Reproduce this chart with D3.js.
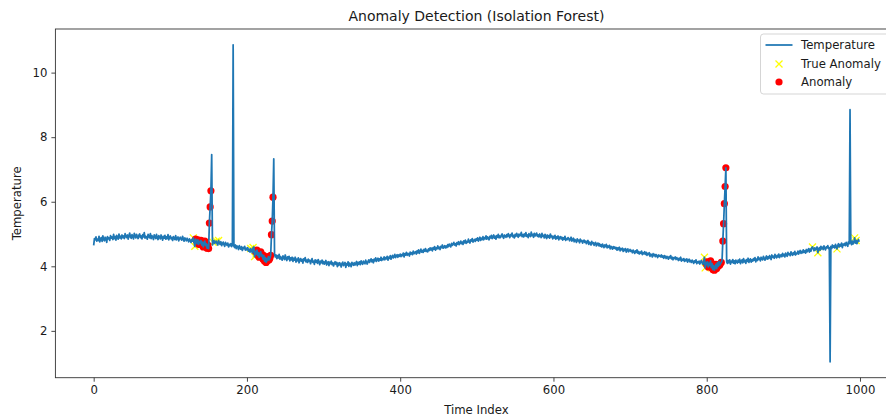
<!DOCTYPE html>
<html>
<head>
<meta charset="utf-8">
<script src="https://cdn.jsdelivr.net/npm/d3@7"></script>
<style>
  body { margin: 0; background: #fff; }
  svg text { font-family: "DejaVu Sans", sans-serif; fill: #1a1a1a; }
</style>
</head>
<body>
<svg id="chart" width="886" height="419"></svg>
<script>
// Temperature readings, one per time index (0..999)
const temperature = [
  4.65,4.86,4.82,4.91,4.78,4.84,4.80,4.93,4.76,4.85,4.89,4.77,4.94,4.83,4.79,4.90,4.86,4.74,4.92,4.85,
  4.88,4.80,4.95,4.87,4.91,4.83,4.99,4.86,4.92,4.81,4.96,4.90,4.84,5.00,4.88,4.93,4.85,4.97,4.89,4.94,
  4.86,5.01,4.93,4.89,4.97,4.84,4.95,5.03,4.90,4.87,4.98,4.92,4.85,5.02,4.94,4.88,4.99,4.91,4.86,4.96,
  5.00,4.89,4.94,4.85,4.98,4.91,5.04,4.87,4.93,4.90,4.84,4.99,4.92,4.88,5.01,4.86,4.95,4.91,4.83,4.97,
  4.92,4.86,4.99,4.88,4.83,4.95,4.90,4.85,4.97,4.89,4.81,4.93,4.87,4.96,4.84,4.91,4.86,4.98,4.82,4.90,
  4.94,4.85,4.89,4.80,4.92,4.87,4.83,4.95,4.82,4.88,4.91,4.79,4.86,4.90,4.84,4.81,4.93,4.85,4.78,4.88,
  4.84,4.79,4.87,4.81,4.76,4.85,4.80,4.74,4.83,4.78,4.88,4.75,4.62,4.84,4.79,4.70,4.82,4.68,4.77,4.73,
  4.80,4.66,4.75,4.60,4.72,4.78,4.64,4.70,4.56,4.66,4.55,5.34,5.84,6.34,7.46,4.66,4.74,4.80,4.71,4.77,
  4.78,4.70,4.66,4.80,4.73,4.68,4.76,4.64,4.71,4.75,4.67,4.62,4.74,4.69,4.65,4.72,4.60,4.68,4.64,4.70,
  4.61,4.66,10.86,4.62,4.58,4.66,4.55,4.63,4.60,4.52,4.64,4.57,4.53,4.61,4.49,4.58,4.55,4.62,4.50,4.56,
  4.51,4.58,4.47,4.53,4.44,4.55,4.49,4.42,4.58,4.60,4.30,4.46,4.38,4.50,4.34,4.42,4.28,4.39,4.45,4.31,
  4.36,4.22,4.33,4.16,4.27,4.12,4.24,4.18,4.30,4.20,4.26,4.34,4.98,5.40,6.14,7.33,4.38,4.29,4.35,4.24,
  4.33,4.26,4.37,4.22,4.30,4.25,4.19,4.32,4.27,4.21,4.35,4.24,4.18,4.29,4.23,4.31,4.17,4.26,4.20,4.28,
  4.15,4.25,4.19,4.28,4.13,4.22,4.17,4.26,4.11,4.20,4.24,4.16,4.21,4.10,4.23,4.18,4.27,4.14,4.19,4.12,
  4.22,4.15,4.19,4.08,4.17,4.24,4.12,4.16,4.06,4.20,4.13,4.18,4.09,4.21,4.14,4.05,4.16,4.11,4.19,4.08,
  4.15,4.07,4.12,4.18,4.04,4.10,4.14,4.02,4.13,4.08,4.16,4.05,4.11,4.01,4.09,4.14,4.06,4.12,3.99,4.10,
  4.03,4.11,4.06,3.98,4.09,4.13,4.02,4.07,4.12,3.97,4.08,4.04,4.14,4.00,4.10,4.05,3.99,4.12,4.07,4.03,
  4.11,4.04,4.09,4.15,4.02,4.12,4.07,4.14,4.05,4.17,4.10,4.06,4.16,4.11,4.08,4.19,4.12,4.07,4.15,4.20,
  4.12,4.18,4.23,4.14,4.20,4.11,4.22,4.17,4.26,4.15,4.21,4.25,4.16,4.23,4.19,4.28,4.18,4.24,4.21,4.29,
  4.20,4.27,4.23,4.31,4.19,4.28,4.25,4.33,4.22,4.30,4.34,4.26,4.29,4.37,4.27,4.32,4.36,4.28,4.35,4.31,
  4.38,4.30,4.36,4.33,4.41,4.29,4.39,4.35,4.43,4.34,4.40,4.37,4.32,4.44,4.38,4.42,4.36,4.47,4.39,4.43,
  4.45,4.38,4.48,4.42,4.51,4.40,4.46,4.53,4.44,4.49,4.43,4.52,4.47,4.55,4.46,4.50,4.45,4.54,4.49,4.57,
  4.51,4.56,4.48,4.58,4.53,4.61,4.50,4.57,4.54,4.63,4.55,4.59,4.52,4.62,4.58,4.66,4.56,4.60,4.64,4.57,
  4.63,4.58,4.67,4.61,4.69,4.64,4.60,4.71,4.65,4.68,4.74,4.66,4.70,4.63,4.73,4.69,4.76,4.67,4.72,4.78,
  4.70,4.75,4.68,4.79,4.73,4.81,4.71,4.77,4.74,4.84,4.76,4.72,4.82,4.78,4.86,4.75,4.80,4.83,4.77,4.85,
  4.81,4.88,4.78,4.84,4.90,4.80,4.87,4.83,4.92,4.82,4.89,4.85,4.94,4.84,4.91,4.87,4.82,4.93,4.88,4.96,
  4.86,4.91,4.97,4.87,4.93,4.84,4.95,4.90,4.99,4.88,4.94,4.89,4.96,5.00,4.91,4.87,4.97,4.93,4.90,4.98,
  4.92,5.01,4.95,4.89,4.98,4.94,5.03,4.91,4.96,4.88,4.99,4.93,5.02,4.95,4.90,5.00,4.94,4.97,5.05,4.92,
  4.98,4.91,5.00,4.94,5.04,4.93,4.97,4.89,5.01,4.96,4.92,5.06,4.95,4.99,4.90,5.02,4.94,4.98,5.03,4.93,
  4.97,4.91,5.00,4.94,4.89,5.02,4.93,4.96,4.88,4.99,4.92,4.86,4.97,4.90,4.95,4.87,5.00,4.91,4.94,4.85,
  4.93,4.88,4.96,4.84,4.91,4.87,4.94,4.82,4.89,4.92,4.85,4.90,4.81,4.88,4.84,4.93,4.80,4.86,4.83,4.89,
  4.86,4.79,4.84,4.90,4.78,4.82,4.87,4.76,4.83,4.80,4.74,4.85,4.79,4.81,4.73,4.84,4.77,4.80,4.72,4.78,
  4.81,4.74,4.78,4.70,4.76,4.80,4.68,4.75,4.72,4.66,4.77,4.70,4.73,4.65,4.71,4.74,4.63,4.69,4.72,4.64,
  4.70,4.62,4.67,4.60,4.69,4.64,4.58,4.66,4.61,4.68,4.57,4.63,4.59,4.65,4.54,4.62,4.58,4.53,4.61,4.56,
  4.60,4.54,4.58,4.50,4.57,4.52,4.59,4.48,4.55,4.51,4.56,4.46,4.53,4.49,4.55,4.44,4.50,4.54,4.45,4.48,
  4.52,4.46,4.49,4.42,4.50,4.45,4.40,4.48,4.43,4.51,4.41,4.46,4.38,4.44,4.40,4.47,4.36,4.42,4.39,4.45,
  4.37,4.43,4.34,4.40,4.36,4.42,4.31,4.38,4.35,4.29,4.39,4.33,4.37,4.30,4.36,4.32,4.27,4.35,4.31,4.34,
  4.29,4.35,4.28,4.32,4.25,4.33,4.30,4.24,4.31,4.27,4.22,4.30,4.26,4.33,4.23,4.28,4.20,4.27,4.24,4.29,
  4.21,4.27,4.23,4.18,4.25,4.20,4.28,4.16,4.22,4.19,4.24,4.15,4.21,4.17,4.23,4.13,4.19,4.22,4.14,4.18,
  4.12,4.19,4.15,4.09,4.17,4.13,4.20,4.08,4.14,4.11,4.16,4.07,4.13,4.18,4.10,4.06,4.15,4.28,3.95,4.12,
  4.05,4.14,3.98,4.10,4.03,4.17,3.96,4.08,3.90,4.02,3.88,3.97,4.06,3.93,4.11,4.00,4.15,4.04,4.09,4.12,
  4.18,4.78,5.32,5.94,6.47,7.05,4.14,4.09,4.18,4.11,4.20,4.07,4.16,4.12,4.21,4.10,4.17,4.08,4.19,4.14,
  4.10,4.19,4.13,4.22,4.08,4.16,4.20,4.11,4.24,4.14,4.18,4.09,4.21,4.15,4.25,4.12,4.19,4.23,4.13,4.20,
  4.16,4.24,4.19,4.27,4.14,4.22,4.18,4.29,4.21,4.25,4.17,4.28,4.23,4.20,4.31,4.24,4.19,4.27,4.32,4.22,
  4.29,4.24,4.33,4.27,4.21,4.35,4.28,4.31,4.25,4.37,4.30,4.26,4.34,4.29,4.38,4.27,4.33,4.36,4.30,4.40,
  4.32,4.37,4.29,4.41,4.35,4.31,4.43,4.36,4.39,4.33,4.45,4.38,4.34,4.42,4.37,4.46,4.35,4.41,4.39,4.47,
  4.38,4.44,4.49,4.40,4.46,4.42,4.51,4.43,4.48,4.41,4.52,4.45,4.50,4.55,4.44,4.53,4.47,4.58,4.60,4.54,
  4.48,4.57,4.51,4.55,4.60,4.42,4.53,4.58,4.50,4.62,4.54,4.59,4.52,4.63,4.56,4.51,4.60,4.57,4.64,4.55,
  4.58,1.04,4.62,4.55,4.66,4.59,4.63,4.57,4.68,4.61,4.54,4.65,4.70,4.60,4.67,4.63,4.72,4.58,4.69,4.66,
  4.71,4.64,4.74,4.68,4.62,4.76,4.70,8.85,4.73,4.67,4.78,4.69,4.75,4.88,4.72,4.80,4.70,4.77,4.83,4.76
];

// Indices flagged as injected (ground truth) anomalies
const trueAnomalyIdx = [130, 132, 138, 142, 156, 160, 163, 205, 208, 210, 212,
  797, 798, 938, 945, 970, 993, 995];

// Indices flagged by the isolation forest
const detectedIdx = [133, 134, 136, 137, 139, 140, 141, 143, 144, 145, 146, 147, 148, 149, 150, 151, 152, 153,
  211, 213, 214, 216, 217, 218, 219, 220, 221, 222, 223, 224, 225, 226, 227, 228, 229, 230, 231, 232, 233, 234,
  799, 800, 801, 802, 803, 804, 805, 806, 807, 808, 809, 810, 811, 812, 813, 815, 817, 819, 821, 822, 823, 824, 825];

const xTicks = [0, 200, 400, 600, 800, 1000];
const yTicks = [2, 4, 6, 8, 10];
const legendLabels = ["Temperature", "True Anomaly", "Anomaly"];

const svg = d3.select("#chart");

const plot = { left: 55.4, right: 897.5, top: 29, bottom: 377.7 };

// matplotlib style 5% margins around the data
const n = temperature.length;
const xPad = (n - 1) * 0.05;
const x = d3.scaleLinear()
    .domain([-xPad, n - 1 + xPad])
    .range([plot.left, plot.right]);

const ext = d3.extent(temperature);
const yPad = (ext[1] - ext[0]) * 0.05;
const y = d3.scaleLinear()
    .domain([ext[0] - yPad, ext[1] + yPad])
    .range([plot.bottom, plot.top]);

svg.append("clipPath").attr("id", "plot-clip")
    .append("rect")
    .attr("x", plot.left).attr("y", plot.top)
    .attr("width", plot.right - plot.left).attr("height", plot.bottom - plot.top);

const body = svg.append("g").attr("clip-path", "url(#plot-clip)");

// scatter layers go under the line (collections have lower zorder)
const xMark = 3.5;
body.append("g").selectAll("path")
    .data(trueAnomalyIdx)
    .join("path")
        .attr("d", i => {
            const cx = x(i), cy = y(temperature[i]);
            return `M${cx - xMark},${cy - xMark}L${cx + xMark},${cy + xMark}M${cx - xMark},${cy + xMark}L${cx + xMark},${cy - xMark}`;
        })
        .attr("stroke", "#ffff00")
        .attr("stroke-width", 1.3)
        .attr("fill", "none");

body.append("g").selectAll("circle")
    .data(detectedIdx)
    .join("circle")
        .attr("cx", i => x(i))
        .attr("cy", i => y(temperature[i]))
        .attr("r", 3.6)
        .attr("fill", "#ff0000");

const line = d3.line()
    .x((d, i) => x(i))
    .y(d => y(d));

body.append("path")
    .datum(temperature)
    .attr("d", line)
    .attr("fill", "none")
    .attr("stroke", "#1f77b4")
    .attr("stroke-width", 1.75)
    .attr("stroke-linejoin", "round");

// Axes
const xAxis = svg.append("g")
    .attr("transform", `translate(0,${plot.bottom})`)
    .call(d3.axisBottom(x).tickValues(xTicks).tickSize(4).tickPadding(4).tickFormat(d3.format("d")));

const yAxis = svg.append("g")
    .attr("transform", `translate(${plot.left},0)`)
    .call(d3.axisLeft(y).tickValues(yTicks).tickSize(4).tickPadding(4).tickFormat(d3.format("d")));

for (const ax of [xAxis, yAxis]) {
    ax.select(".domain").remove();
    ax.selectAll(".tick line").attr("stroke", "#333").attr("stroke-width", 0.9);
    ax.selectAll(".tick text")
        .attr("fill", "#1a1a1a")
        .style("font-size", "11.7px")
        .style("font-family", "DejaVu Sans, sans-serif");
}

// Spines
svg.append("rect")
    .attr("x", plot.left).attr("y", plot.top)
    .attr("width", plot.right - plot.left).attr("height", plot.bottom - plot.top)
    .attr("fill", "none")
    .attr("stroke", "#333")
    .attr("stroke-width", 0.9);

// Titles
const midX = (plot.left + plot.right) / 2;
svg.append("text")
    .attr("x", midX).attr("y", 21)
    .attr("text-anchor", "middle")
    .style("font-size", "14px")
    .text("Anomaly Detection (Isolation Forest)");

svg.append("text")
    .attr("x", midX).attr("y", 414)
    .attr("text-anchor", "middle")
    .style("font-size", "11.7px")
    .text("Time Index");

svg.append("text")
    .attr("transform", `translate(21,${(plot.top + plot.bottom) / 2}) rotate(-90)`)
    .attr("text-anchor", "middle")
    .style("font-size", "11.7px")
    .text("Temperature");

// Legend
const legend = svg.append("g").attr("transform", "translate(760.5,34)");
legend.append("rect")
    .attr("width", 150).attr("height", 60)
    .attr("rx", 3)
    .attr("fill", "#fff").attr("fill-opacity", 0.8)
    .attr("stroke", "#d0d0d0").attr("stroke-width", 0.9);

const rowY = [11, 30, 48];
legendLabels.forEach((label, k) => {
    const g = legend.append("g").attr("transform", `translate(0,${rowY[k]})`);
    if (k === 0) {
        g.append("line").attr("x1", 5).attr("x2", 32)
            .attr("stroke", "#1f77b4").attr("stroke-width", 1.75);
    } else if (k === 1) {
        g.append("path")
            .attr("d", `M${18.5 - xMark},${-xMark}L${18.5 + xMark},${xMark}M${18.5 - xMark},${xMark}L${18.5 + xMark},${-xMark}`)
            .attr("stroke", "#ffff00").attr("stroke-width", 1.3);
    } else {
        g.append("circle").attr("cx", 18.5).attr("cy", 0).attr("r", 3.6).attr("fill", "#ff0000");
    }
    g.append("text")
        .attr("x", 40.5).attr("y", 0).attr("dy", "0.35em")
        .style("font-size", "11.7px")
        .text(label);
});
</script>
</body>
</html>
